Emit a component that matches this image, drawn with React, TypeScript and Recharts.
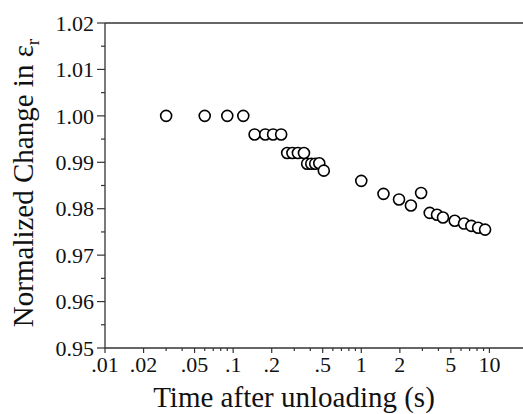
import { ScatterChart, Scatter, XAxis, YAxis, ReferenceLine } from "recharts";

const timeS = [
  0.03, 0.06, 0.09, 0.12, 0.147, 0.178, 0.205, 0.237, 0.264, 0.29, 0.32, 0.357,
  0.378, 0.407, 0.437, 0.47, 0.51, 1.0, 1.49, 1.97, 2.44, 2.93, 3.42, 3.9, 4.34,
  5.36, 6.34, 7.23, 8.16, 9.25,
];
const normChange = [
  1.0, 1.0, 1.0, 1.0, 0.996, 0.996, 0.996, 0.996, 0.992, 0.992, 0.992, 0.992,
  0.9897, 0.9897, 0.9897, 0.9898, 0.9882, 0.986, 0.9832, 0.982, 0.9807, 0.9834,
  0.9791, 0.9787, 0.9781, 0.9774, 0.9768, 0.9763, 0.9759, 0.9755,
];

const xTicks = [
  0.01, 0.02, 0.03, 0.04, 0.05, 0.06, 0.07, 0.08, 0.09,
  0.1, 0.2, 0.3, 0.4, 0.5, 0.6, 0.7, 0.8, 0.9,
  1, 2, 3, 4, 5, 6, 7, 8, 9, 10, 20,
];
const xLabeled = [0.01, 0.02, 0.05, 0.1, 0.2, 0.5, 1, 2, 5, 10];
const yTicks = [
  0.95, 0.955, 0.96, 0.965, 0.97, 0.975, 0.98, 0.985, 0.99, 0.995, 1.0, 1.005,
  1.01, 1.015, 1.02,
];

const data = timeS.map((t, i) => ({ t, v: normChange[i] }));

const FONT = "Liberation Serif, DejaVu Serif, Times, serif";
const INK = "#111";
const AXIS = "#333";

function fmtX(v: number) {
  return v < 1 ? String(v).replace(/^0/, "") : String(v);
}

function XTick({ x, y, payload }: any) {
  const v = payload.value;
  const lab = xLabeled.includes(v);
  return (
    <g>
      <line x1={x} x2={x} y1={y} y2={y + (lab ? 5 : 3)} stroke={AXIS} strokeWidth={1.2} />
      {lab && (
        <text x={x} y={y + 24} textAnchor="middle" style={{ fontFamily: FONT }} fontSize={22} fill={INK}>
          {fmtX(v)}
        </text>
      )}
    </g>
  );
}

function YTick({ x, y, payload }: any) {
  const v = payload.value;
  const major = Math.round(v * 1000) % 10 === 0;
  return (
    <g>
      <line x1={x - (major ? 8 : 4)} x2={x} y1={y} y2={y} stroke={AXIS} strokeWidth={1.2} />
      {major && (
        <text x={x - 11} y={y} dy="0.35em" textAnchor="end" style={{ fontFamily: FONT }} fontSize={22} fill={INK}>
          {v.toFixed(2)}
        </text>
      )}
    </g>
  );
}

function Ring({ cx, cy }: any) {
  return <circle cx={cx} cy={cy} r={5.5} fill="#fff" stroke="#000" strokeWidth={1.6} />;
}

export default function App() {
  return (
    <div
      style={{
        position: "absolute",
        left: 0,
        top: 0,
        width: 523,
        height: 414,
        overflow: "hidden",
        background: "#fff",
        fontFamily: FONT,
      }}
    >
      <ScatterChart width={528} height={414} margin={{ top: 23, right: 0, bottom: 0, left: 0 }}>
        <XAxis
          type="number"
          dataKey="t"
          scale="log"
          domain={[0.01, 20]}
          allowDataOverflow
          ticks={xTicks}
          interval={0}
          height={66}
          tickSize={0}
          tickMargin={0}
          tickLine={false}
          axisLine={{ stroke: AXIS, strokeWidth: 1.3 }}
          tick={<XTick />}
          label={{
            content: () => (
              <text x={294} y={407} textAnchor="middle" style={{ fontFamily: FONT }} fontSize={29} fill={INK}>
                Time after unloading (s)
              </text>
            ),
          }}
        />
        <YAxis
          type="number"
          dataKey="v"
          domain={[0.95, 1.02]}
          allowDataOverflow
          ticks={yTicks}
          interval={0}
          width={105}
          tickSize={0}
          tickMargin={0}
          tickLine={false}
          axisLine={{ stroke: AXIS, strokeWidth: 1.3 }}
          tick={<YTick />}
          label={{
            content: () => (
              <text
                x={33}
                y={183}
                transform="rotate(-90 33 183)"
                textAnchor="middle"
                style={{ fontFamily: FONT }}
                fontSize={29}
                fill={INK}
              >
                Normalized Change in ε
                <tspan dy={6} fontSize={19}>r</tspan>
              </text>
            ),
          }}
        />
        <ReferenceLine y={1.02} stroke={AXIS} strokeWidth={1.3} />
        <Scatter data={data} shape={<Ring />} isAnimationActive={false} />
      </ScatterChart>
    </div>
  );
}
